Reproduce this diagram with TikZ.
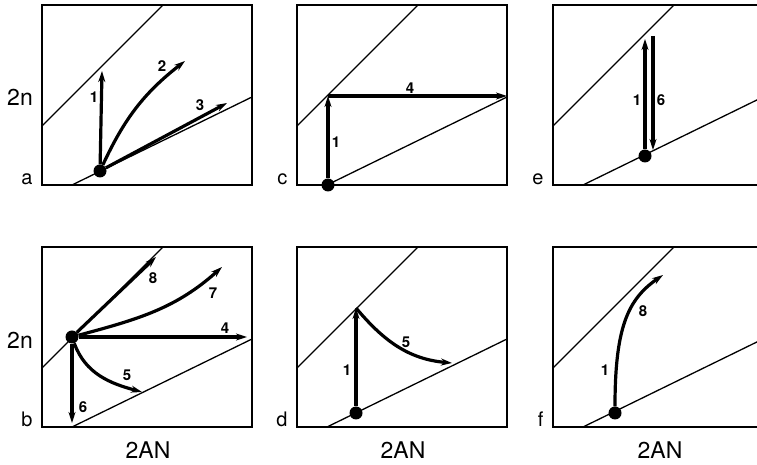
\documentclass[tikz,border=0pt]{standalone}
\usepackage{fontspec}
\setmainfont{TeX Gyre Heros}
\usetikzlibrary{arrows.meta}

\begin{document}
\begin{tikzpicture}[x=1pt, y=1pt,
                    frame/.style={line width=2pt},
                    bound/.style={line width=1.3pt},
                    traj/.style={line width=3.2pt, -{Stealth[length=11pt,width=7pt]}},
                    dot/.style={circle, fill, inner sep=0pt, minimum size=13pt},
                    num/.style={font=\bfseries\fontsize{15}{15}\selectfont},
                    letter/.style={font=\fontsize{20}{20}\selectfont, anchor=base east},
                    axis/.style={font=\fontsize{23}{23}\selectfont}]
  \clip (0,0) rectangle (757,465);
  % frames and the two boundary lines of every panel
  \foreach \px/\py/\l in {42/280/a, 297/280/c, 553/280/e, 42/38/b, 297/38/d, 553/38/f} {
    \begin{scope}[shift={(\px,\py)}]
      \draw[frame] (0,0) rectangle (210,180);
      \draw[bound] (0,59) -- (121,180);
      \draw[bound] (30,0) -- (210,88);
      \node[letter] (lbl-\l) at (-6,0) {\l};
    \end{scope}
  }
  \node[axis] (ntop) at (20,368) {2n};
  \node[axis] (nbot) at (20,125) {2n};
  \node[axis] (xb) at (148,15) {2AN};
  \node[axis] (xd) at (403,15) {2AN};
  \node[axis] (xf) at (660,15) {2AN};

  % a
  \begin{scope}[shift={(42,280)}]
    \node[dot] (a0) at (58,14) {};
    \coordinate (a1) at (60,114);
    \coordinate (a2) at (143,124);
    \coordinate (a3) at (185,82);
    \draw[traj] (a0) -- (a1);
    \draw[traj] (a0) to[out=65, in=218] (a2);
    \draw[traj] (a0) -- (a3);
    \node[num] (a1l) at (52,88) {1};
    \node[num] (a2l) at (120,119) {2};
    \node[num] (a3l) at (158,80) {3};
  \end{scope}

  % c
  \begin{scope}[shift={(297,280)}]
    \node[dot] (c0) at (31,0) {};
    \coordinate (c1) at (31,89);
    \coordinate (c4) at (210,89);
    \draw[traj] (c0) -- (c1);
    \draw[traj] (c1) -- (c4);
    \node[num] (c1l) at (39,43) {1};
    \node[num] (c4l) at (113,97) {4};
  \end{scope}

  % e
  \begin{scope}[shift={(553,280)}]
    \node[dot] (e0) at (92,29) {};
    \coordinate (e1) at (92,146);
    \coordinate (e6a) at (100,149);
    \coordinate (e6) at (100,35);
    \draw[traj] (e0) -- (e1);
    \draw[traj] (e6a) -- (e6);
    \node[num] (e1l) at (84,85) {1};
    \node[num] (e6l) at (108,85) {6};
  \end{scope}

  % b
  \begin{scope}[shift={(42,38)}]
    \node[dot] (b0) at (30,90) {};
    \coordinate (b4) at (205,90);
    \coordinate (b5) at (100,35);
    \coordinate (b6) at (30,4);
    \coordinate (b7) at (180,160);
    \coordinate (b8) at (114,170);
    \draw[traj] (b0) -- (b8);
    \draw[traj] (b0) to[out=15, in=222] (b7);
    \draw[traj] (b0) -- (b4);
    \draw[traj] (b0) to[out=-70, in=165] (b5);
    \draw[traj] (b0) -- (b6);
    \node[num] (b8l) at (111,149) {8};
    \node[num] (b7l) at (171,134) {7};
    \node[num] (b4l) at (183,99) {4};
    \node[num] (b5l) at (85,52) {5};
    \node[num] (b6l) at (41,20) {6};
  \end{scope}

  % d
  \begin{scope}[shift={(297,38)}]
    \node[dot] (d0) at (59,14) {};
    \coordinate (d1) at (59,119);
    \coordinate (d5) at (155,64);
    \draw[traj] (d0) -- (d1);
    \draw[traj] (d1) to[out=-50, in=175] (d5);
    \node[num] (d1l) at (50,57) {1};
    \node[num] (d5l) at (109,85) {5};
  \end{scope}

  % f
  \begin{scope}[shift={(553,38)}]
    \node[dot] (f0) at (62,14) {};
    \coordinate (f8) at (110,152);
    \draw[traj] (f0) .. controls (62,100) and (75,128) .. (f8);
    \node[num] (f1l) at (52,57) {1};
    \node[num] (f8l) at (90,116) {8};
  \end{scope}
\end{tikzpicture}
\end{document}
